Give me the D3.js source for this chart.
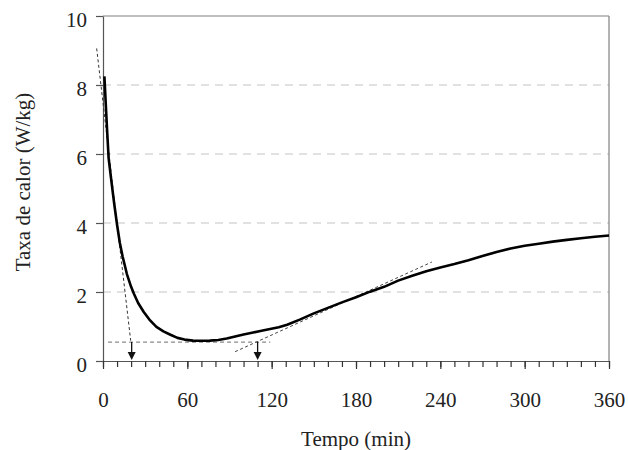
<!DOCTYPE html>
<html><head><meta charset="utf-8">
<script src="https://cdn.jsdelivr.net/npm/d3@7"></script>
<style>html,body{margin:0;padding:0;background:#fff}</style>
</head><body>
<svg id="chart" width="628" height="450"></svg>
<script>
// Data
const timeMin = [1, 2, 3, 4, 6, 8, 10, 12, 14, 17, 20, 22, 25, 29, 33, 38, 43, 48, 53, 58, 64, 70, 76, 82, 88, 94, 100, 106, 112, 118, 125, 131, 140, 150, 160, 170, 180, 190, 200, 210, 220, 230, 240, 250, 260, 270, 280, 290, 300, 310, 320, 330, 340, 350, 360];
const heatRate = [8.25, 7.42, 6.63, 5.88, 5.2, 4.55, 3.95, 3.42, 3.02, 2.52, 2.15, 1.95, 1.68, 1.42, 1.2, 0.99, 0.86, 0.76, 0.67, 0.62, 0.59, 0.585, 0.59, 0.61, 0.65, 0.71, 0.77, 0.82, 0.87, 0.92, 0.98, 1.05, 1.2, 1.38, 1.54, 1.70, 1.85, 2.01, 2.15, 2.33, 2.47, 2.6, 2.71, 2.81, 2.92, 3.04, 3.16, 3.26, 3.34, 3.40, 3.46, 3.51, 3.56, 3.60, 3.64];
const initialTangentT = [-4.5, 19.7];
const initialTangentV = [9.06, 0.59];
const baselineT = [3.6, 119];
const baselineV = [0.55, 0.55];
const inflectionTangentT = [94, 234];
const inflectionTangentV = [0.27, 2.87];
const arrowTimes = [20.4, 110];
const arrowFromV = 0.55;
const xTicks = [0, 60, 120, 180, 240, 300, 360];
const yTicks = [0, 2, 4, 6, 8, 10];
const xLabel = "Tempo (min)";
const yLabel = "Taxa de calor (W/kg)";

const svg = d3.select("#chart");
const L = 103, R = 609, T = 16, B = 361;
const x = d3.scaleLinear().domain([0, 360]).range([L, R]);
const y = d3.scaleLinear().domain([0, 10]).range([B, T]);
const font = "'Liberation Serif', 'Times New Roman', serif";

// gridlines
svg.append("g").selectAll("line").data([2, 4, 6, 8]).join("line")
  .attr("x1", L).attr("x2", R).attr("y1", d => y(d)).attr("y2", d => y(d))
  .attr("stroke", "#c4c4c4").attr("stroke-width", 1.2).attr("stroke-dasharray", "8,6");

// frame top & right
svg.append("line").attr("x1", L).attr("x2", R).attr("y1", T).attr("y2", T).attr("stroke", "#808080").attr("stroke-width", 1.2);
svg.append("line").attr("x1", R).attr("x2", R).attr("y1", T).attr("y2", B).attr("stroke", "#808080").attr("stroke-width", 1.2);

// y axis
const yAxis = svg.append("g").attr("transform", `translate(${L},0)`)
  .call(d3.axisLeft(y).tickValues(yTicks).tickSize(7).tickSizeOuter(0).tickPadding(9));
yAxis.select(".domain").attr("stroke", "#555").attr("stroke-width", 1.2);
yAxis.selectAll(".tick line").attr("stroke", "#555").attr("stroke-width", 1.2);
yAxis.selectAll(".tick text").attr("font-family", font).attr("font-size", 21).attr("fill", "#222").attr("dy", "0.48em");

// x axis minor ticks
const xAxisMinor = svg.append("g").attr("transform", `translate(0,${B})`)
  .call(d3.axisBottom(x).tickValues(d3.range(0, 361, 10)).tickSize(6).tickSizeOuter(0).tickFormat(""));
xAxisMinor.select(".domain").attr("stroke", "#555").attr("stroke-width", 1.2);
xAxisMinor.selectAll(".tick line").attr("stroke", "#333").attr("stroke-width", 1.2);
const xAxis = svg.append("g").attr("transform", `translate(0,${B})`)
  .call(d3.axisBottom(x).tickValues(xTicks).tickSize(8).tickSizeOuter(0).tickPadding(23));
xAxis.select(".domain").remove();
xAxis.selectAll(".tick line").attr("stroke", "#333").attr("stroke-width", 1.2);
xAxis.selectAll(".tick text").attr("font-family", font).attr("font-size", 21).attr("fill", "#222");

// titles
svg.append("text").attr("x", 356).attr("y", 446).attr("text-anchor", "middle")
  .attr("font-family", font).attr("font-size", 21).attr("fill", "#222").text(xLabel);
svg.append("text").attr("transform", "translate(30,182) rotate(-90)").attr("text-anchor", "middle")
  .attr("font-family", font).attr("font-size", 21).attr("fill", "#222").text(yLabel);

const lineGen = d3.line().x(d => x(d[0])).y(d => y(d[1]));

// helper lines
svg.append("path").datum(d3.zip(baselineT, baselineV)).attr("d", lineGen)
  .attr("fill", "none").attr("stroke", "#8a8a8a").attr("stroke-width", 1.3).attr("stroke-dasharray", "4,3");
svg.append("path").datum(d3.zip(initialTangentT, initialTangentV)).attr("d", lineGen)
  .attr("fill", "none").attr("stroke", "#333").attr("stroke-width", 1).attr("stroke-dasharray", "3,2.5");
svg.append("path").datum(d3.zip(inflectionTangentT, inflectionTangentV)).attr("d", lineGen)
  .attr("fill", "none").attr("stroke", "#444").attr("stroke-width", 1).attr("stroke-dasharray", "3,2.5");

// arrows
const arr = svg.append("g").selectAll("g").data(arrowTimes).join("g");
arr.append("line").attr("x1", d => x(d)).attr("x2", d => x(d))
  .attr("y1", y(arrowFromV)).attr("y2", y(0) - 7).attr("stroke", "#111").attr("stroke-width", 1.3);
arr.append("path").attr("d", d => `M${x(d) - 4},${y(0) - 9}L${x(d) + 4},${y(0) - 9}L${x(d)},${y(0) - 1}Z`).attr("fill", "#111");

// main curve
svg.append("path").datum(d3.zip(timeMin, heatRate)).attr("d", lineGen)
  .attr("fill", "none").attr("stroke", "#000").attr("stroke-width", 2.6).attr("stroke-linejoin", "round");
</script>
</body></html>
